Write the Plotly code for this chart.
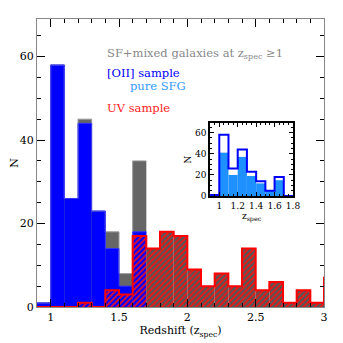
import plotly.graph_objects as go

# bin centres, width 0.1 (0.9 .. 3.1)
z_bins = [0.95, 1.05, 1.15, 1.25, 1.35, 1.45, 1.55, 1.65, 1.75, 1.85, 1.95,
          2.05, 2.15, 2.25, 2.35, 2.45, 2.55, 2.65, 2.75, 2.85, 2.95, 3.05]
n_mixed = [1, 58, 26, 45, 23, 18, 8, 35]          # SF+mixed, z <= 1.7
n_oii = [1, 58, 26, 44, 23, 14, 5, 18]            # [OII] sample
n_uv = [0, 0, 0, 1, 0, 4, 3, 17, 14, 18, 17,
        9, 5, 8, 5, 14, 4, 6, 1, 4, 1, 7]         # UV sample

# inset: pure SFG vs [OII]
z_in = [0.95, 1.05, 1.15, 1.25, 1.35, 1.45, 1.55, 1.65, 1.75]
n_in_oii = [1, 58, 26, 44, 23, 14, 5, 18, 0]
n_in_sfg = [1, 41, 20, 37, 19, 12, 5, 15, 0]

W = 0.1
FONT = "DejaVu Serif"


def steps(centres, values):
    xs = [c - W / 2 for c in centres] + [centres[-1] + W / 2]
    ys = list(values) + [values[-1]]
    return xs, ys


fig = go.Figure()

fig.add_trace(go.Bar(x=z_bins[:len(n_mixed)], y=n_mixed, width=W,
                     marker=dict(color="#666666", line=dict(width=0))))
fig.add_trace(go.Bar(x=z_bins[:len(n_oii)], y=n_oii, width=W,
                     marker=dict(color="#0000ff", line=dict(width=0))))
bg = ["rgba(0,0,0,0)" if z < 1.7 else "#555555" for z in z_bins]
fig.add_trace(go.Bar(x=z_bins, y=n_uv, width=W,
                     marker=dict(color="red", line=dict(width=0),
                                 pattern=dict(shape="/", fgcolor="#ff1010", bgcolor=bg,
                                              size=4, solidity=0.4, fillmode="replace"))))

sx, sy = steps(z_bins[:len(n_mixed)], n_mixed)
fig.add_trace(go.Scatter(x=sx, y=sy, mode="lines", line=dict(shape="hv", color="#9a9a9a", width=1)))
sx, sy = steps(z_bins[:len(n_oii)], n_oii)
fig.add_trace(go.Scatter(x=sx, y=sy, mode="lines", line=dict(shape="hv", color="#3333ff", width=1)))
sx, sy = steps(z_bins, n_uv)
fig.add_trace(go.Scatter(x=[0.9] + sx, y=[0] + sy, mode="lines",
                         line=dict(shape="hv", color="red", width=2)))

# inset
fig.add_trace(go.Bar(x=z_in, y=n_in_sfg, width=W, xaxis="x2", yaxis="y2",
                     marker=dict(color="#1e90ff", line=dict(width=0))))
sx, sy = steps(z_in, n_in_oii)
fig.add_trace(go.Scatter(x=sx, y=sy, mode="lines", xaxis="x2", yaxis="y2",
                         line=dict(shape="hv", color="#0000ff", width=2)))

axis_common = dict(showgrid=False, zeroline=False, showline=True, linecolor="#888888",
                   mirror="allticks", ticks="inside", tickcolor="black", ticklen=8,
                   automargin=False,
                   tickfont=dict(family=FONT, size=11, color="black"))

# page body keeps its 8px margin, so the figure is 335px and margins are shifted
fig.update_layout(
    width=335, height=335, barmode="overlay", showlegend=False,
    plot_bgcolor="white", paper_bgcolor="white",
    margin=dict(l=29, r=19, t=11, b=36, autoexpand=False),
    font=dict(family=FONT, color="black"),
    xaxis=dict(axis_common, range=[0.9, 3.0], dtick=0.5, tick0=0,
               minor=dict(dtick=0.1, ticklen=4, ticks="inside", tickcolor="black"),
               title=dict(text="Redshift (z<sub>spec</sub>)", font=dict(size=11), standoff=2)),
    yaxis=dict(axis_common, range=[0, 69], dtick=20,
               minor=dict(dtick=5, ticklen=4, ticks="inside", tickcolor="black"),
               title=dict(text="N", font=dict(size=11), standoff=13)),
    xaxis2=dict(axis_common, domain=[0.603, 0.892], anchor="y2", range=[0.9, 1.8], dtick=0.2,
                linecolor="black", linewidth=1.5, ticklen=4,
                tickfont=dict(family=FONT, size=9, color="black"),
                minor=dict(dtick=0.05, ticklen=2, ticks="inside", tickcolor="black"),
                title=dict(text="z<sub>spec</sub>", font=dict(size=9), standoff=2)),
    yaxis2=dict(axis_common, domain=[0.385, 0.639], anchor="x2", range=[0, 69], dtick=20,
                linecolor="black", linewidth=1.5, ticklen=4,
                tickfont=dict(family=FONT, size=9, color="black"),
                minor=dict(dtick=5, ticklen=2, ticks="inside", tickcolor="black"),
                title=dict(text="N", font=dict(size=9), standoff=2)),
)

labels = [
    ("SF+mixed galaxies at z<sub>spec</sub> ≥1", "#888888", 105, 53),
    ("[OII] sample", "#0000ff", 105, 73),
    ("pure SFG", "#3399ff", 128, 86),
    ("UV sample", "#ff2222", 105, 108),
]
for text, color, px, py in labels:
    fig.add_annotation(text=text, xref="paper", yref="paper",
                       x=(px - 37) / 287, y=(307 - py) / 288,
                       xanchor="left", yanchor="middle", showarrow=False,
                       font=dict(family=FONT, size=11.5, color=color))

fig.write_html("out.html")
